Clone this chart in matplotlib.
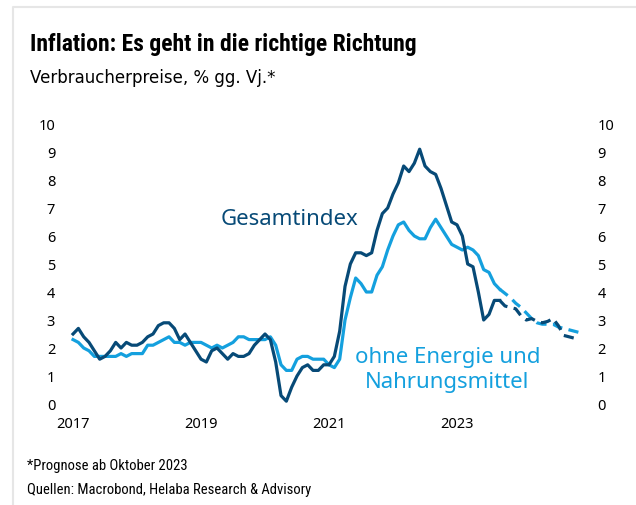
import matplotlib
matplotlib.use("Agg")
import matplotlib.pyplot as plt
from matplotlib import font_manager
from matplotlib.lines import Line2D
import numpy as np

# monthly values, Jan 2017 .. Sep 2023 (actual)
gesamt = [
    2.5, 2.7, 2.4, 2.2, 1.9, 1.6, 1.7, 1.9, 2.2, 2.0, 2.2, 2.1,   # 2017
    2.1, 2.2, 2.4, 2.5, 2.8, 2.9, 2.9, 2.7, 2.3, 2.5, 2.2, 1.9,   # 2018
    1.6, 1.5, 1.9, 2.0, 1.8, 1.6, 1.8, 1.7, 1.7, 1.8, 2.1, 2.3,   # 2019
    2.5, 2.3, 1.5, 0.3, 0.1, 0.6, 1.0, 1.3, 1.4, 1.2, 1.2, 1.4,   # 2020
    1.4, 1.7, 2.6, 4.2, 5.0, 5.4, 5.4, 5.3, 5.4, 6.2, 6.8, 7.0,   # 2021
    7.5, 7.9, 8.5, 8.3, 8.6, 9.1, 8.5, 8.3, 8.2, 7.7, 7.1, 6.5,   # 2022
    6.4, 6.0, 5.0, 4.9, 4.0, 3.0, 3.2, 3.7, 3.7,                  # 2023
]
kern = [
    2.3, 2.2, 2.0, 1.9, 1.7, 1.7, 1.7, 1.7, 1.7, 1.8, 1.7, 1.8,
    1.8, 1.8, 2.1, 2.1, 2.2, 2.3, 2.4, 2.2, 2.2, 2.1, 2.2, 2.2,
    2.2, 2.1, 2.0, 2.1, 2.0, 2.1, 2.2, 2.4, 2.4, 2.3, 2.3, 2.3,
    2.3, 2.4, 2.1, 1.4, 1.2, 1.2, 1.6, 1.7, 1.7, 1.6, 1.6, 1.6,
    1.4, 1.3, 1.6, 3.0, 3.8, 4.5, 4.3, 4.0, 4.0, 4.6, 4.9, 5.5,
    6.0, 6.4, 6.5, 6.2, 6.0, 5.9, 5.9, 6.3, 6.6, 6.3, 6.0, 5.7,
    5.6, 5.5, 5.6, 5.5, 5.3, 4.8, 4.7, 4.3, 4.1,
]
# forecast Oct 2023 .. Dec 2024
gesamt_prog = [3.5, 3.45, 3.4, 3.15, 3.0, 3.05, 2.95, 2.9, 2.95, 3.05, 2.8, 2.45, 2.4, 2.35, 2.3]
kern_prog = [3.95, 3.8, 3.6, 3.45, 3.25, 3.05, 2.9, 2.85, 2.85, 2.85, 2.75, 2.7, 2.65, 2.6, 2.55]
year_ticks = ["2017", "2019", "2021", "2023"]

dark = "#074a77"
light = "#14a0de"

# narrow font for title / notes, if one is around
names = {f.name for f in font_manager.fontManager.ttflist}
cond = "DejaVu Sans"
scale = 0.78
for cand in ["Liberation Sans Narrow", "Noto Sans Condensed", "Roboto Condensed",
             "Open Sans Condensed", "DejaVu Sans Condensed"]:
    if cand in names:
        cond = cand
        scale = 1.0
        break

n = len(gesamt)
x_ist = np.arange(n)
x_prog = np.arange(n - 1, n + len(gesamt_prog))

fig = plt.figure(figsize=(6.36, 5.06), dpi=100)
ax = fig.add_axes([67.7 / 636, 101 / 506, 517.3 / 636, 280 / 506])

lw = 2.3
dash = (0, (3.2, 2.0))
ax.plot(x_ist, kern, color=light, lw=lw, solid_joinstyle="round")
ax.plot(x_prog, [kern[-1]] + kern_prog, color=light, lw=lw, ls=dash)
ax.plot(x_ist, gesamt, color=dark, lw=lw, solid_joinstyle="round")
ax.plot(x_prog, [gesamt[-1]] + gesamt_prog, color=dark, lw=lw, ls=dash)

ax.set_xlim(-1, 96)
ax.set_ylim(0, 10)
ax.set_yticks(range(0, 11))
ax.set_xticks([0, 24, 48, 72])
ax.set_xticklabels(year_ticks)
ax.tick_params(axis="both", length=0, labelsize=10.5, colors="black")
ax.tick_params(axis="y", pad=9, labelleft=True, labelright=True)
ax.tick_params(axis="x", pad=9)
for lab in ax.get_xticklabels() + ax.get_yticklabels():
    lab.set_family("Noto Sans")
for s in ax.spines.values():
    s.set_visible(False)
ax.patch.set_alpha(0)

ax.text(27.6, 6.62, "Gesamtindex", color=dark, fontsize=16, family="Noto Sans",
        va="center", ha="left")
ax.text(70.2, 1.25, "ohne Energie und\nNahrungsmittel", color=light, fontsize=16,
        family="Noto Sans", va="center", ha="center", linespacing=1.19)

fig.text(30 / 636, 1 - 45 / 506, "Inflation: Es geht in die richtige Richtung",
         fontsize=16.5 * scale if scale < 1 else 17, fontweight="bold", family=cond, va="center")
fig.text(30 / 636, 1 - 78 / 506, "Verbraucherpreise, % gg. Vj.*",
         fontsize=12, family="DejaVu Sans", va="center")
fig.text(27 / 636, 1 - 466 / 506, "*Prognose ab Oktober 2023",
         fontsize=10 * 0.85 if scale < 1 else 10.5, family=cond, va="center")
fig.text(27 / 636, 1 - 490 / 506, "Quellen: Macrobond, Helaba Research & Advisory",
         fontsize=10 * 0.85 if scale < 1 else 10.5, family=cond, va="center")

# light grey card edge at top and left
fig.add_artist(Line2D([12.5 / 636, 12.5 / 636, 1], [0, 1 - 7.5 / 506, 1 - 7.5 / 506],
                      transform=fig.transFigure, color="#e6e6e6", lw=1.5))

fig.savefig("out.png", dpi=100)
